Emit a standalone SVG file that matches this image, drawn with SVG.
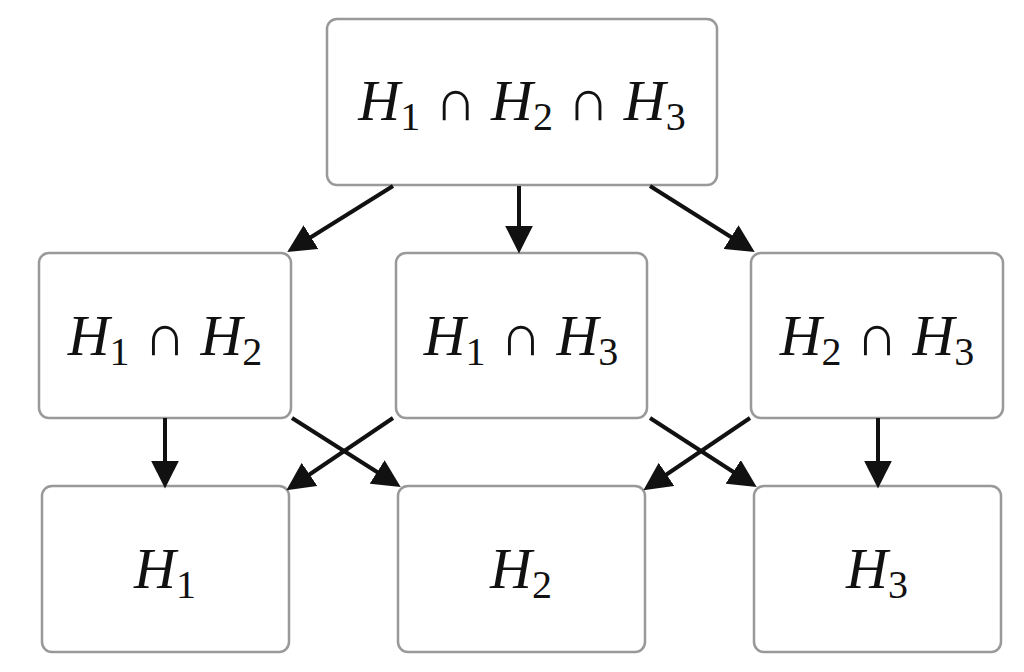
<svg xmlns="http://www.w3.org/2000/svg" width="1024" height="672" viewBox="0 0 1024 672">
<style>
.b{fill:#fff;stroke:#999;stroke-width:2.5}
.t{font-family:"Liberation Serif",serif;font-style:italic;font-size:58px;fill:#111;text-anchor:middle}
.s{font-size:40px;font-style:normal}
.o{font-style:normal}
.c line{stroke:#111;stroke-width:4;marker-end:url(#a)}
</style>
<defs><marker id="a" viewBox="0 0 10 10" refX="8" refY="5" markerWidth="7" markerHeight="7" markerUnits="strokeWidth" orient="auto"><path d="M0,0L10,5L0,10z" fill="#111"/></marker></defs>
<rect width="1024" height="672" fill="#fff"/>
<g id="n123"><rect class="b" x="327" y="19" width="390" height="166" rx="10"/><text class="t" x="522" y="120">H<tspan class="s" dy="10">1</tspan><tspan class="o" dy="-10"> ∩ </tspan>H<tspan class="s" dy="10">2</tspan><tspan class="o" dy="-10"> ∩ </tspan>H<tspan class="s" dy="10">3</tspan></text></g>
<g id="n12"><rect class="b" x="39" y="253" width="252" height="165" rx="10"/><text class="t" x="165" y="355">H<tspan class="s" dy="10">1</tspan><tspan class="o" dy="-10"> ∩ </tspan>H<tspan class="s" dy="10">2</tspan></text></g>
<g id="n13"><rect class="b" x="396" y="253" width="251" height="165" rx="10"/><text class="t" x="521" y="355">H<tspan class="s" dy="10">1</tspan><tspan class="o" dy="-10"> ∩ </tspan>H<tspan class="s" dy="10">3</tspan></text></g>
<g id="n23"><rect class="b" x="751" y="253" width="252" height="165" rx="10"/><text class="t" x="877" y="355">H<tspan class="s" dy="10">2</tspan><tspan class="o" dy="-10"> ∩ </tspan>H<tspan class="s" dy="10">3</tspan></text></g>
<g id="n1"><rect class="b" x="42" y="486" width="247" height="166" rx="10"/><text class="t" x="165" y="588">H<tspan class="s" dy="10">1</tspan></text></g>
<g id="n2"><rect class="b" x="398" y="486" width="247" height="166" rx="10"/><text class="t" x="521" y="588">H<tspan class="s" dy="10">2</tspan></text></g>
<g id="n3"><rect class="b" x="754" y="486" width="247" height="166" rx="10"/><text class="t" x="877" y="588">H<tspan class="s" dy="10">3</tspan></text></g>
<g class="c">
<line x1="393" y1="186" x2="292" y2="249"/>
<line x1="519" y1="186" x2="519" y2="248"/>
<line x1="650" y1="186" x2="750" y2="249"/>
<line x1="165" y1="418" x2="165" y2="483"/>
<line x1="292" y1="418" x2="396" y2="484"/>
<line x1="393" y1="418" x2="291" y2="487"/>
<line x1="650" y1="418" x2="752" y2="484"/>
<line x1="750" y1="418" x2="648" y2="487"/>
<line x1="878" y1="418" x2="878" y2="483"/>
</g>
</svg>
